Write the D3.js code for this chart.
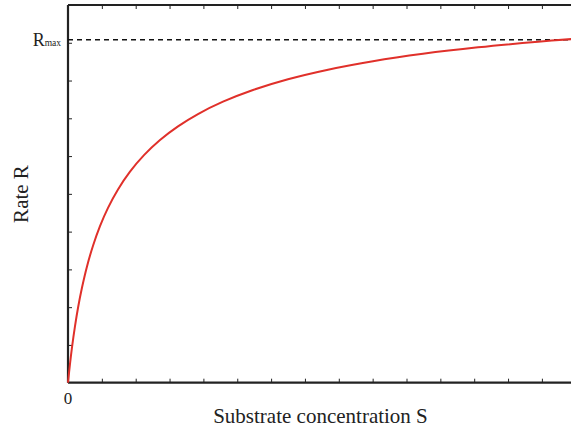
<!DOCTYPE html>
<html>
<head>
<meta charset="utf-8">
<script src="https://cdn.jsdelivr.net/npm/d3@7"></script>
<style>
  html, body { margin: 0; padding: 0; background: #fff; }
  svg { display: block; }
  text { font-family: "Liberation Serif", "Times New Roman", serif; fill: #222; }
</style>
</head>
<body>
<script>
// ---- data ----
const substrate = [0, 0.059, 0.118, 0.207, 0.295, 0.414, 0.561, 0.739, 0.945, 1.182, 1.477, 1.832, 2.245, 2.718, 3.250, 3.840, 4.579, 5.465, 6.499, 7.681, 9.010, 10.487, 12.112, 13.885, 15];
const rate      = [0, 0.498, 0.935, 1.499, 1.979, 2.520, 3.079, 3.627, 4.146, 4.629, 5.117, 5.587, 6.024, 6.425, 6.787, 7.113, 7.440, 7.750, 8.034, 8.288, 8.512, 8.708, 8.879, 9.028, 9.106];
const rMax = 9.08;
const xTicks = d3.range(1, 15);
const yTicks = d3.range(1, 10);
const xDomain = [0, 15];
const yDomain = [0, 10];

// ---- layout ----
const W = 571, H = 429;
const mLeft = 68, mTop = 5, plotW = 507.75, plotH = 377.7;

const svg = d3.select("body").append("svg").attr("width", W).attr("height", H);

const x = d3.scaleLinear().domain(xDomain).range([mLeft, mLeft + plotW]);
const y = d3.scaleLinear().domain(yDomain).range([mTop + plotH, mTop]);

const axisColor = "#222";

// axes with inward ticks
const gB = svg.append("g").attr("transform", `translate(0,${y(0)})`)
  .call(d3.axisTop(x).tickValues(xTicks).tickSize(4).tickFormat(""));
const gT = svg.append("g").attr("transform", `translate(0,${y(10)})`)
  .call(d3.axisBottom(x).tickValues(xTicks).tickSize(4).tickFormat(""));
const gL = svg.append("g").attr("transform", `translate(${x(0)},0)`)
  .call(d3.axisRight(y).tickValues(yTicks).tickSize(4).tickFormat(""));
[gB, gT, gL].forEach(g => {
  g.select(".domain").attr("stroke", axisColor).attr("stroke-width", 2.2);
  g.selectAll(".tick line").attr("stroke", axisColor).attr("stroke-width", 1);
});
gB.select(".domain").attr("d", `M${x(0)},0H${x(15)}`);
gT.select(".domain").attr("d", `M${x(0)},0H${x(15)}`);
gL.select(".domain").attr("d", `M0,${y(0)}V${y(10)}`);

// Rmax dashed line
svg.append("line")
  .attr("x1", x(0)).attr("x2", x(15))
  .attr("y1", y(rMax)).attr("y2", y(rMax))
  .attr("stroke", "#111").attr("stroke-width", 1.3)
  .attr("stroke-dasharray", "5,4");

// curve
const pts = substrate.map((s, i) => [s, rate[i]]);
svg.append("path")
  .datum(pts)
  .attr("fill", "none")
  .attr("stroke", "#e0302a")
  .attr("stroke-width", 2)
  .attr("d", d3.line().x(d => x(d[0])).y(d => y(d[1])).curve(d3.curveCatmullRom.alpha(0.5)));

// labels
const rl = svg.append("text")
  .attr("x", 61).attr("y", y(rMax) + 6)
  .attr("text-anchor", "end");
rl.append("tspan").attr("font-size", 18).text("R");
rl.append("tspan").attr("font-size", 9.5).text("max");

svg.append("text")
  .attr("x", x(0)).attr("y", 404)
  .attr("text-anchor", "middle").attr("font-size", 17)
  .text("0");

svg.append("text")
  .attr("x", x(0) + (W - x(0)) / 2 + 1).attr("y", 423)
  .attr("text-anchor", "middle").attr("font-size", 21)
  .text("Substrate concentration S");

svg.append("text")
  .attr("transform", `translate(28,194) rotate(-90)`)
  .attr("text-anchor", "middle").attr("font-size", 21)
  .text("Rate R");
</script>
</body>
</html>
